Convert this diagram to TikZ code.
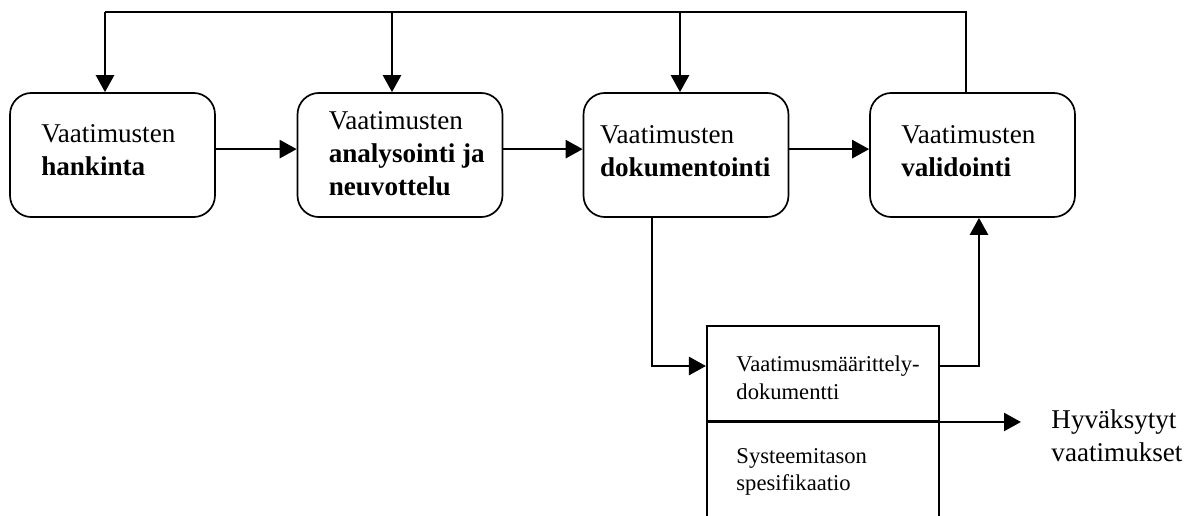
\documentclass[tikz,border=0pt]{standalone}
\usepackage{fontspec}
\setmainfont{Liberation Serif}
\usetikzlibrary{arrows.meta}
\tikzset{
  stage/.style={draw, line width=0.75pt, rounded corners=9.5pt, minimum width=90.7pt, minimum height=54.9pt, inner sep=0pt},
  docpart/.style={draw, line width=0.9pt, minimum width=102.7pt, inner sep=0pt},
  stagetext/.style={anchor=west, inner sep=0pt, align=left, font=\fontsize{12pt}{14.5pt}\selectfont},
  doctext/.style={anchor=west, inner sep=0pt, align=left, font=\fontsize{10pt}{12.2pt}\selectfont},
  flow/.style={line width=1pt, -{Triangle[length=7.5pt,width=8pt]}},
}

\begin{document}
\begin{tikzpicture}[x=0.4425pt, y=-0.4425pt]
  \clip (0,0) rectangle (1195,516);

  \node[stage] (b1) at (112.5,155) {};
  \node[stage] (b2) at (400,155) {};
  \node[stage] (b3) at (686,155) {};
  \node[stage] (b4) at (972.5,155) {};
  \node[stagetext] (l1) at ([xshift=14pt, yshift=2.2pt]b1.west) {Vaatimusten\\\textbf{hankinta}};
  \node[stagetext] (l2) at ([xshift=14pt, yshift=0.5pt]b2.west) {Vaatimusten\\\textbf{analysointi ja}\\\textbf{neuvottelu}};
  \node[stagetext] (l3) at ([xshift=7.5pt, yshift=1.8pt]b3.west) {Vaatimusten\\\textbf{dokumentointi}};
  \node[stagetext] (l4) at ([xshift=14pt, yshift=1.8pt]b4.west) {Vaatimusten\\\textbf{validointi}};

  \node[docpart, minimum height=42pt] (d1) at (823,373.5) {};
  \node[docpart, minimum height=45pt] (d2) at (823,472) {};
  \node[doctext] (t1) at ([xshift=13.3pt, yshift=-1.8pt]d1.west) {Vaatimusmäärittely-\\dokumentti};
  \node[doctext] (t2) at ([xshift=13.3pt]d2.west) {Systeemitason\\spesifikaatio};
  \node[stagetext] (acc) at (1051,436) {Hyväksytyt\\vaatimukset};

  % feedback from validation back to every stage
  \coordinate (fb1) at (105,12);
  \coordinate (fb2) at (392,12);
  \coordinate (fb3) at (680,12);
  \coordinate (fb4) at (966,12);
  \draw[line width=1pt] (fb4 |- b4.north) -- (fb4) -- (fb1);
  \foreach \i in {1,2,3}
    \draw[flow] (fb\i) -- (fb\i |- b\i.north);

  \foreach \a/\b in {1/2,2/3,3/4}
    \draw[flow] ([yshift=2.6pt]b\a.east) -- ([yshift=2.6pt]b\b.west);

  \coordinate (down) at (652,366);
  \draw[flow] (down |- b3.south) |- (d1.west |- down);
  \coordinate (up) at (979,366);
  \draw[flow] (d1.east |- up) -| (up |- b4.south);
  \draw[flow, shorten >=13.3pt] (d1.south west) -- (d1.south west -| acc.west);
\end{tikzpicture}
\end{document}
